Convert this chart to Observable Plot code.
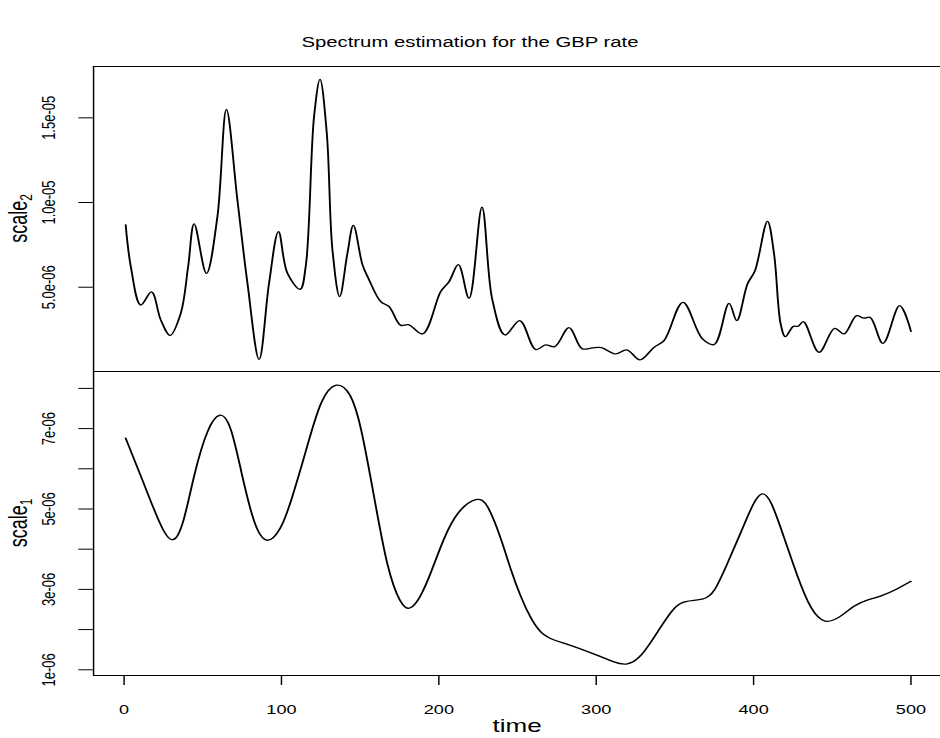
<!DOCTYPE html>
<html><head><meta charset="utf-8">
<script src="https://cdn.jsdelivr.net/npm/d3@7"></script>
<script src="https://cdn.jsdelivr.net/npm/@observablehq/plot@0.6"></script>
<style>
html,body{margin:0;padding:0;background:#fff;overflow:hidden;}
#wrap{position:relative;width:648px;height:738px;transform:scaleX(1.4506);transform-origin:0 0;font-family:"Liberation Sans",Arial,Helvetica,sans-serif;color:#000;}
#title{position:absolute;left:0;width:648px;top:35px;text-align:center;font-size:14px;line-height:14px;}
#top,#bot{position:absolute;left:0;}
#top{top:56px}
#bot{top:370px}
svg{overflow:visible;display:block}
</style></head><body>
<div id="wrap"><div id="title">Spectrum estimation for the GBP rate</div><div id="top"></div><div id="bot"></div></div>
<script>
// values in units of 1e-06
const time2 = [1, 4.3, 10.6, 17.4, 23.3, 29.2, 36, 40.7, 44.5, 52.3, 59.3, 65, 72, 78.4, 85.8, 92.1, 98.1, 103.8, 111.8, 115.4, 120.7, 124.5, 128.8, 132.4, 137, 141.9, 145.7, 151.5, 155.7, 163.1, 168.4, 175.8, 180.7, 189.6, 201.2, 206.5, 212.4, 219.2, 227.4, 234, 242.1, 251.4, 261.6, 267.9, 273.6, 282.7, 291.2, 297.6, 303.3, 312.4, 319.4, 327.8, 336.7, 343.1, 355.1, 367.5, 374.8, 384.4, 389.3, 396.1, 400.9, 408.8, 413, 417.2, 420.2, 425.3, 428.2, 431.6, 441.6, 451.5, 457.4, 465.5, 470.1, 474, 482.2, 492.8, 500];
const scale2 = [8.68, 6.2, 3.95, 4.72, 3.07, 2.16, 3.46, 6.22, 8.74, 5.82, 9.17, 15.5, 10.15, 5.23, 0.74, 5.23, 8.28, 5.82, 4.88, 6.22, 15.07, 17.27, 14.09, 7.2, 4.45, 7.0, 8.65, 6.32, 5.43, 4.15, 3.85, 2.75, 2.79, 2.24, 4.74, 5.33, 6.33, 4.35, 9.72, 4.25, 2.18, 3.03, 1.32, 1.59, 1.49, 2.62, 1.36, 1.42, 1.43, 1.06, 1.30, 0.71, 1.45, 1.85, 4.11, 1.95, 1.61, 4.05, 3.03, 5.19, 5.98, 8.89, 6.97, 2.83, 2.08, 2.69, 2.69, 2.97, 1.16, 2.57, 2.24, 3.32, 3.17, 3.22, 1.69, 3.91, 2.40];
const time1 = [1, 12.7, 23.3, 30.3, 37.1, 44.5, 53, 61, 67.8, 74.1, 82.6, 90.7, 99.6, 105.9, 116.5, 125, 134.9, 144, 150.4, 158.8, 167.3, 175.8, 181.7, 188.5, 194.9, 203.3, 211.8, 224.5, 230.9, 239.3, 245.7, 252, 258.4, 264.7, 273.2, 282.7, 300.8, 311.3, 318.7, 328.3, 341, 349.4, 355.8, 368.5, 374.8, 383.3, 391.8, 400.3, 405.6, 410.9, 419.3, 427.8, 436.3, 445.2, 455.3, 463.8, 472.3, 480.7, 491.4, 500];
const scale1 = [6.76, 5.62, 4.55, 4.1, 4.47, 5.9, 7.03, 7.46, 7.12, 5.98, 4.55, 4.08, 4.47, 5.15, 6.57, 7.76, 8.2, 7.91, 7.12, 5.32, 3.47, 2.6, 2.46, 2.81, 3.4, 4.30, 4.96, 5.32, 5.15, 4.30, 3.48, 2.81, 2.27, 1.9, 1.73, 1.63, 1.36, 1.19, 1.1, 1.27, 2.07, 2.56, 2.72, 2.73, 2.89, 3.64, 4.4, 5.21, 5.45, 5.25, 4.30, 3.32, 2.48, 2.12, 2.31, 2.61, 2.74, 2.82, 3.01, 3.2];
const xTicks = [0, 100, 200, 300, 400, 500];
const yTicks2 = [5, 10, 15];
const yLabels2 = ["5.0e-06", "1.0e-05", "1.5e-05"];
const yTicks1 = [1, 2, 3, 4, 5, 6, 7, 8];
const yLabels1 = ["1e-06", "", "3e-06", "", "5e-06", "", "7e-06", ""];
const titleText = "Spectrum estimation for the GBP rate";
const xLabel = "time";

const xDomain = [-19.4, 518.9];
const y2Domain = [0.024, 18.03];
const y1Domain = [0.858, 8.42];
const W = 648, ML = 64;
const FONT = '"Liberation Sans", Arial, Helvetica, sans-serif';

const d2 = time2.map((t, i) => ({t, v: scale2[i]}));
const d1 = time1.map((t, i) => ({t, v: scale1[i]}));

document.getElementById("title").textContent = titleText;

const common = {width: W, marginLeft: ML, marginRight: 0,
  style: {background: "transparent", overflow: "visible", fontFamily: FONT, color: "black"}};

function yLabelMarks(ticks, labels) {
  return [
    Plot.axisY({ticks, tickSize: 10, tickFormat: () => "", label: null}),
    Plot.text(ticks, {y: d => d, text: (d, i) => labels[i], frameAnchor: "left", dx: -31,
      rotate: -90, fontSize: 13, textAnchor: "middle", lineAnchor: "middle", fill: "black"})
  ];
}

const topPlot = Plot.plot({...common, height: 316, marginTop: 10, marginBottom: 1,
  x: {domain: xDomain, axis: null, label: null},
  y: {domain: y2Domain, label: null},
  marks: [
    ...yLabelMarks(yTicks2, yLabels2),
    Plot.ruleX([xDomain[0]], {stroke: "black"}),
    Plot.ruleY([y2Domain[0], y2Domain[1]], {stroke: "black"}),
    Plot.line(d2, {x: "t", y: "v", curve: "catmull-rom", stroke: "black", strokeWidth: 1.3})
  ]});

const botPlot = Plot.plot({...common, height: 368, marginTop: 1, marginBottom: 63,
  x: {domain: xDomain, label: null},
  y: {domain: y1Domain, label: null},
  marks: [
    ...yLabelMarks(yTicks1, yLabels1),
    Plot.axisX({ticks: xTicks, tickSize: 10, tickPadding: 20, fontSize: 12.5, label: null}),
    Plot.ruleX([xDomain[0]], {stroke: "black"}),
    Plot.ruleY([y1Domain[0]], {stroke: "black"}),
    Plot.line(d1, {x: "t", y: "v", curve: "basis", stroke: "black", strokeWidth: 1.3}),
    Plot.text([xLabel], {text: d => d, frameAnchor: "bottom", dy: 56, fontSize: 18, fill: "black"})
  ]});

function addLabel(svg, cy, main, sub) {
  const t = d3.select(svg).append("text")
    .attr("transform", `translate(12,${cy}) rotate(-90)`)
    .attr("text-anchor", "middle").attr("font-size", 18).attr("fill", "black")
    .attr("font-family", FONT).attr("dy", "0.35em");
  t.append("tspan").text(main);
  t.append("tspan").attr("dy", "0.3em").attr("font-size", 12).text(sub);
}
addLabel(topPlot, 10 + (316 - 11) / 2, "scale", "2");
addLabel(botPlot, 1 + (368 - 64) / 2, "scale", "1");

document.getElementById("top").appendChild(topPlot);
document.getElementById("bot").appendChild(botPlot);
</script>
</body></html>
